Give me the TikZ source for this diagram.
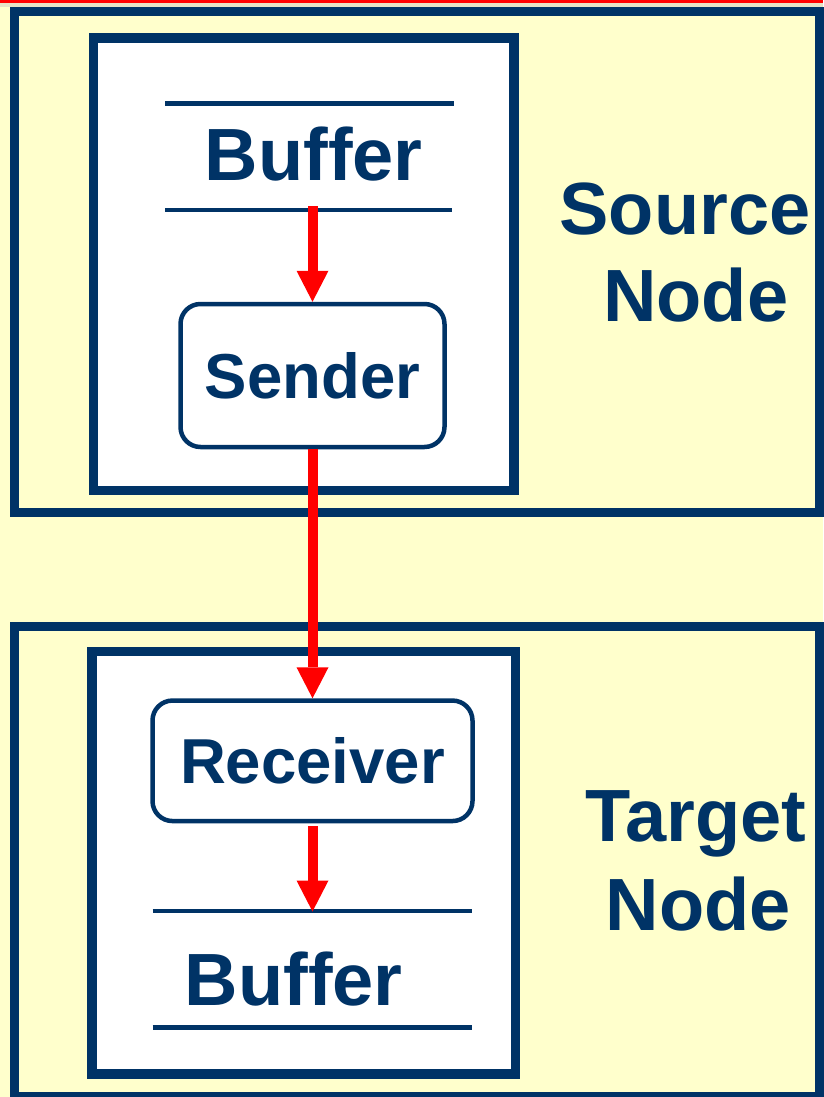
\documentclass[tikz,border=0pt]{standalone}
\usepackage{fontspec}
\setmainfont{Liberation Sans}
\usetikzlibrary{arrows.meta}
\definecolor{navy}{HTML}{003366}
\definecolor{paper}{HTML}{FFFFCC}
\definecolor{band}{HTML}{E6E3C6}
\definecolor{flow}{HTML}{FF0000}
\tikzset{
  frame/.style={draw=navy, line width=9pt},
  panel/.style={draw=navy, fill=white, line width=9.5pt},
  rule/.style={draw=navy, line width=4.5pt},
  unit/.style={draw=navy, fill=white, line width=4.5pt, rounded corners=20pt,
    inner sep=0pt, text=navy, font=\fontsize{63.5}{63.5}\selectfont\bfseries},
  bigtext/.style={inner sep=0pt, anchor=base, text=navy,
    font=\fontsize{74}{74}\selectfont\bfseries},
  arr/.style={draw=flow, line width=10pt,
    -{Triangle[width=32pt,length=31pt,line width=0pt]}},
}
\begin{document}
\begin{tikzpicture}[x=1pt,y=-1pt]
\useasboundingbox (0,0) rectangle (823,1097);
% page background and header strip
\fill[paper] (0,0) rectangle (823,1097);
\fill[band] (0,3) rectangle (823,7);
\fill[flow] (0,0) rectangle (823,3);

% outer frames
\draw[frame] (14.7,11.7) rectangle (819.5,512.8);
\draw[frame] (14.7,626) rectangle (819.5,1096.8);

% inner panels
\draw[panel] (93.7,38) rectangle (514,490.5);
\draw[panel] (92,651.7) rectangle (515.3,1074);

% source side: buffer
\draw[rule] (165,103.3) -- (454,103.3);
\draw[rule] (165,210) -- (452,210);
\node[bigtext] (sbuf) at (313.7,180) {Buffer};
\coordinate (sbufout) at (312.5,206);

% sender
\node[unit, minimum width=264pt, minimum height=143pt] (sender) at (312.5,375.5) {Sender};

% receiver
\node[unit, minimum width=320pt, minimum height=120.5pt] (receiver) at (312.5,760.8) {Receiver};

% target side: buffer
\draw[rule] (152.7,911) -- (472.3,911);
\draw[rule] (152.7,1027.7) -- (472.3,1027.7);
\node[bigtext] (tbuf) at (293.8,1005) {Buffer};
\coordinate (tbufin) at (312.5,911.5);

% frame labels
\node[bigtext] (srcA) at (685,234) {Source};
\node[bigtext] (srcB) at (695.8,321.7) {Node};
\node[bigtext] (tgtA) at (695.8,841.7) {Target};
\node[bigtext] (tgtB) at (698.3,930) {Node};

% data flow
\draw[arr] (sbufout) -- (sender.north);
\draw[arr] (sender.south) -- (receiver.north);
\draw[arr] ([yshift=-3pt]receiver.south) -- (tbufin);
\end{tikzpicture}
\end{document}
